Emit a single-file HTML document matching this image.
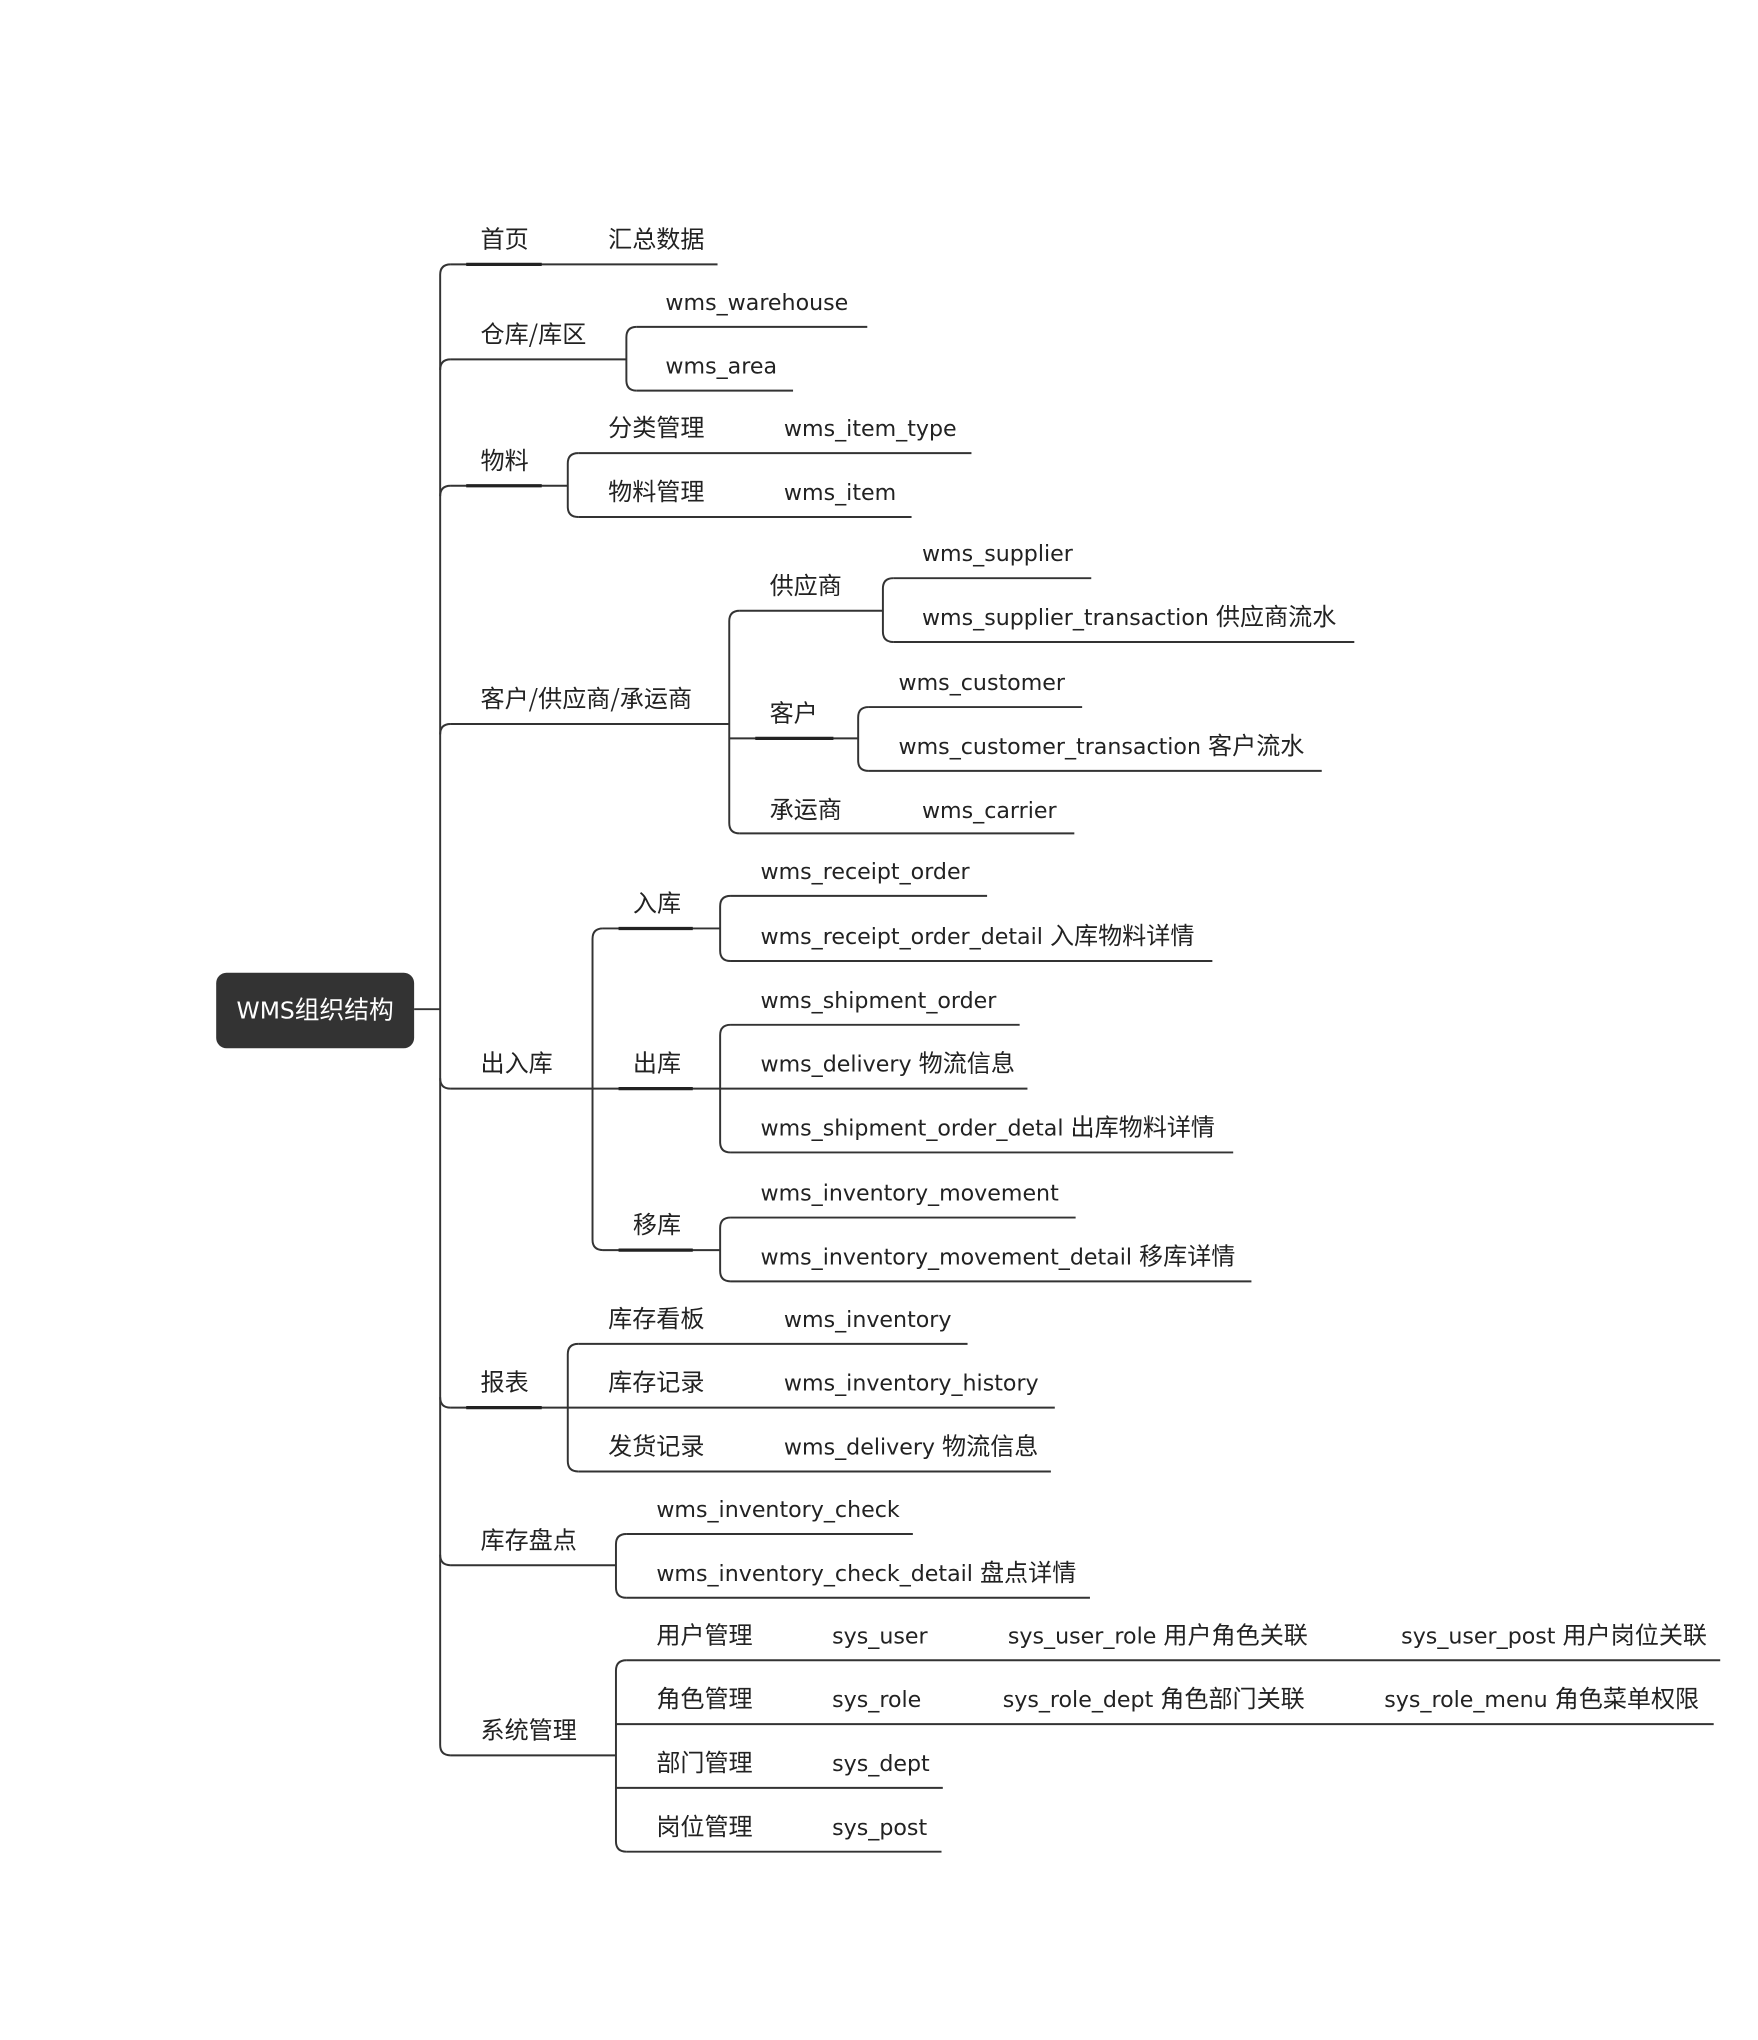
<!DOCTYPE html>
<html><head><meta charset="utf-8"><style>
html,body{margin:0;padding:0;background:#fff;}
svg{display:block;}
text{font-family:"DejaVu Sans","Noto Sans CJK SC",sans-serif;font-size:17px;fill:#222;}
.c{font-family:"Noto Sans CJK SC",sans-serif;font-size:18.5px;}
</style></head><body>
<svg width="1758" height="2040" viewBox="0 0 1350 1566.6" xmlns="http://www.w3.org/2000/svg">
<g fill="none" stroke="#333" stroke-width="1.5">
<line x1="318" y1="775" x2="338" y2="775"/>
<path d="M346,203 Q338,203 338,211 L338,1340 Q338,1348 346,1348"/>
<path d="M346,276 Q338,276 338,284"/>
<path d="M346,373 Q338,373 338,381"/>
<path d="M346,556 Q338,556 338,564"/>
<path d="M346,836 Q338,836 338,828"/>
<path d="M346,1081 Q338,1081 338,1073"/>
<path d="M346,1202 Q338,1202 338,1194"/>
<line x1="346" y1="203" x2="551" y2="203"/>
<line x1="346" y1="276" x2="481" y2="276"/>
<line x1="346" y1="373" x2="436" y2="373"/>
<line x1="346" y1="556" x2="560" y2="556"/>
<line x1="346" y1="836" x2="455" y2="836"/>
<line x1="346" y1="1081" x2="436" y2="1081"/>
<line x1="346" y1="1202" x2="473" y2="1202"/>
<line x1="346" y1="1348" x2="473" y2="1348"/>
<path d="M489,251 Q481,251 481,259 L481,292 Q481,300 489,300"/>
<line x1="489" y1="251" x2="666" y2="251"/><line x1="489" y1="300" x2="609" y2="300"/>
<path d="M444,348 Q436,348 436,356 L436,389 Q436,397 444,397"/>
<line x1="444" y1="348" x2="746" y2="348"/><line x1="444" y1="397" x2="700" y2="397"/>
<path d="M568,469 Q560,469 560,477 L560,632 Q560,640 568,640"/>
<line x1="568" y1="469" x2="678" y2="469"/>
<line x1="560" y1="567" x2="659" y2="567"/>
<line x1="568" y1="640" x2="825" y2="640"/>
<path d="M686,444 Q678,444 678,452 L678,485 Q678,493 686,493"/>
<line x1="686" y1="444" x2="838" y2="444"/><line x1="686" y1="493" x2="1040" y2="493"/>
<path d="M667,543 Q659,543 659,551 L659,584 Q659,592 667,592"/>
<line x1="667" y1="543" x2="831" y2="543"/><line x1="667" y1="592" x2="1015" y2="592"/>
<path d="M463,713 Q455,713 455,721 L455,952 Q455,960 463,960"/>
<line x1="463" y1="713" x2="553" y2="713"/>
<line x1="455" y1="836" x2="553" y2="836"/>
<line x1="463" y1="960" x2="553" y2="960"/>
<path d="M561,688 Q553,688 553,696 L553,730 Q553,738 561,738"/>
<line x1="561" y1="688" x2="758" y2="688"/><line x1="561" y1="738" x2="931" y2="738"/>
<path d="M561,787 Q553,787 553,795 L553,877 Q553,885 561,885"/>
<line x1="561" y1="787" x2="783" y2="787"/><line x1="553" y1="836" x2="789" y2="836"/><line x1="561" y1="885" x2="947" y2="885"/>
<path d="M561,935 Q553,935 553,943 L553,976 Q553,984 561,984"/>
<line x1="561" y1="935" x2="826" y2="935"/><line x1="561" y1="984" x2="961" y2="984"/>
<path d="M444,1032 Q436,1032 436,1040 L436,1122 Q436,1130 444,1130"/>
<line x1="444" y1="1032" x2="743" y2="1032"/><line x1="436" y1="1081" x2="810" y2="1081"/><line x1="444" y1="1130" x2="807" y2="1130"/>
<path d="M481,1178 Q473,1178 473,1186 L473,1219 Q473,1227 481,1227"/>
<line x1="481" y1="1178" x2="701" y2="1178"/><line x1="481" y1="1227" x2="837" y2="1227"/>
<path d="M481,1275 Q473,1275 473,1283 L473,1414 Q473,1422 481,1422"/>
<line x1="481" y1="1275" x2="1321" y2="1275"/><line x1="473" y1="1324" x2="1316" y2="1324"/>
<line x1="473" y1="1373" x2="724" y2="1373"/><line x1="481" y1="1422" x2="723" y2="1422"/>
</g>
<g stroke="#222" stroke-width="2.5">
<line x1="358" y1="203" x2="416" y2="203"/><line x1="358" y1="373" x2="416" y2="373"/>
<line x1="358" y1="1081" x2="416" y2="1081"/><line x1="580" y1="567" x2="640" y2="567"/>
<line x1="475" y1="836" x2="532" y2="836"/><line x1="475" y1="713" x2="532" y2="713"/><line x1="475" y1="960" x2="532" y2="960"/>
</g>
<rect x="166" y="747" width="152" height="58" rx="8" fill="#333"/>
<text x="242" y="782" text-anchor="middle" style="fill:#fff;font-size:18px">WMS<tspan class="c" style="fill:#fff;font-size:19px">组织结构</tspan></text>
<text class="c" x="369" y="190">首页</text><text class="c" x="467" y="190">汇总数据</text>
<text class="c" x="369" y="263">仓库/库区</text><text x="511" y="238">wms_warehouse</text><text x="511" y="287">wms_area</text>
<text class="c" x="369" y="360">物料</text><text class="c" x="467" y="335">分类管理</text><text x="602" y="335">wms_item_type</text>
<text class="c" x="467" y="384">物料管理</text><text x="602" y="384">wms_item</text>
<text class="c" x="369" y="543">客户/供应商/承运商</text>
<text class="c" x="591" y="456">供应商</text><text x="708" y="431">wms_supplier</text><text x="708" y="480">wms_supplier_transaction <tspan class="c">供应商流水</tspan></text>
<text class="c" x="591" y="554">客户</text><text x="690" y="530">wms_customer</text><text x="690" y="579">wms_customer_transaction <tspan class="c">客户流水</tspan></text>
<text class="c" x="591" y="628">承运商</text><text x="708" y="628">wms_carrier</text>
<text class="c" x="369" y="823">出入库</text>
<text class="c" x="486" y="700">入库</text><text x="584" y="675">wms_receipt_order</text><text x="584" y="725">wms_receipt_order_detail <tspan class="c">入库物料详情</tspan></text>
<text class="c" x="486" y="823">出库</text><text x="584" y="774">wms_shipment_order</text><text x="584" y="823">wms_delivery <tspan class="c">物流信息</tspan></text><text x="584" y="872">wms_shipment_order_detal <tspan class="c">出库物料详情</tspan></text>
<text class="c" x="486" y="947">移库</text><text x="584" y="922">wms_inventory_movement</text><text x="584" y="971">wms_inventory_movement_detail <tspan class="c">移库详情</tspan></text>
<text class="c" x="369" y="1068">报表</text>
<text class="c" x="467" y="1019">库存看板</text><text x="602" y="1019">wms_inventory</text>
<text class="c" x="467" y="1068">库存记录</text><text x="602" y="1068">wms_inventory_history</text>
<text class="c" x="467" y="1117">发货记录</text><text x="602" y="1117">wms_delivery <tspan class="c">物流信息</tspan></text>
<text class="c" x="369" y="1189">库存盘点</text><text x="504" y="1165">wms_inventory_check</text><text x="504" y="1214">wms_inventory_check_detail <tspan class="c">盘点详情</tspan></text>
<text class="c" x="369" y="1335">系统管理</text>
<text class="c" x="504" y="1262">用户管理</text><text x="639" y="1262">sys_user</text><text x="774" y="1262">sys_user_role <tspan class="c">用户角色关联</tspan></text><text x="1076" y="1262">sys_user_post <tspan class="c">用户岗位关联</tspan></text>
<text class="c" x="504" y="1311">角色管理</text><text x="639" y="1311">sys_role</text><text x="770" y="1311">sys_role_dept <tspan class="c">角色部门关联</tspan></text><text x="1063" y="1311">sys_role_menu <tspan class="c">角色菜单权限</tspan></text>
<text class="c" x="504" y="1360">部门管理</text><text x="639" y="1360">sys_dept</text>
<text class="c" x="504" y="1409">岗位管理</text><text x="639" y="1409">sys_post</text>
</svg>
</body></html>
